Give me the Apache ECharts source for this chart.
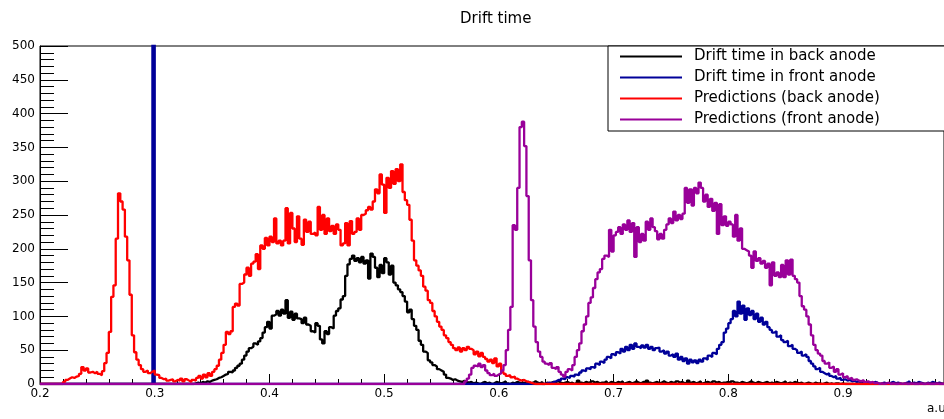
<!DOCTYPE html>
<html>
<head>
<meta charset="utf-8">
<title>Drift time</title>
<script src="https://cdn.jsdelivr.net/npm/echarts@6/dist/echarts.min.js"></script>
<style>
  html, body { margin: 0; padding: 0; background: #fff; }
  #chart { width: 944px; height: 419px; }
</style>
</head>
<body>
<div id="chart"></div>
<script>
// Histogram binning: 0.002 a.u. per bin, axis from 0.2 to 0.988
const AXIS_START = 0.2;
const AXIS_END = 0.988;
const BIN_WIDTH = 0.002;

const seriesNames = [
  'Drift time in back anode',
  'Drift time in front anode',
  'Predictions (back anode)',
  'Predictions (front anode)'
];
const seriesColors = ['#000000', '#000099', '#ff0000', '#990099'];

const yTicks = [0, 50, 100, 150, 200, 250, 300, 350, 400, 450, 500];
const xTicks = [0.2, 0.3, 0.4, 0.5, 0.6, 0.7, 0.8, 0.9];

// Drift time in back anode (counts per bin, first bin at backAnodeFrom)
const backAnodeFrom = 0.334;
const backAnodeCounts = [
  1, 2, 1, 3, 2, 4, 3, 5, 6, 7,
  9, 10, 12, 14, 15, 18, 17, 20, 24, 27,
  30, 36, 42, 48, 53, 55, 60, 58, 63, 68,
  76, 84, 92, 82, 101, 103, 108, 101, 110, 104,
  124, 98, 107, 95, 104, 97, 96, 90, 98, 88,
  86, 78, 76, 90, 86, 66, 60, 78, 74, 84,
  82, 101, 108, 112, 125, 130, 160, 177, 185, 190,
  182, 186, 180, 188, 178, 183, 156, 193, 188, 172,
  158, 176, 164, 186, 180, 162, 175, 150, 146, 140,
  136, 130, 122, 106, 110, 96, 86, 80, 64, 58,
  48, 46, 35, 32, 28, 26, 22, 20, 18, 14,
  9, 8, 6, 7, 5, 4, 3, 5, 3, 2,
  3, 1,
  2, 1, 0, 2, 3, 1, 2, 0, 1, 3,
  2, 1, 2, 4, 1, 0, 2, 1, 3, 2,
  1, 2, 0, 3, 1, 2, 4, 2, 1, 3,
  0, 2, 1, 2, 3, 1, 4, 2, 1, 2,
  3, 1, 2, 0, 2, 5, 2, 1, 3, 2,
  1, 4, 2, 3, 1, 2, 2, 4, 1, 3,
  2, 1, 3, 2, 4, 1, 2, 3, 1, 2,
  4, 2, 1, 3, 2, 5, 2, 1, 2, 3,
  1, 2, 4, 2, 1, 3, 2, 1, 4, 2,
  3, 1, 2, 5, 2, 3, 1, 2, 4, 1,
  2, 3, 2, 1, 4, 2, 3, 1, 2, 2,
  3, 1, 4, 2, 2, 1, 3, 2, 1, 2,
  4, 2, 1, 3, 2, 1, 2, 3, 1, 2,
  1, 3, 2, 1, 2, 4, 1, 2, 1, 3,
  2, 1, 2, 0, 1, 2, 1, 0, 2, 1,
  1, 0, 1, 2, 0, 1, 0, 1, 1, 0,
  1
];

// Drift time in front anode: one off-scale bin, then the main distribution
const frontAnodeSpikeFrom = 0.298;
const frontAnodeSpikeCounts = [2400];
const frontAnodeFrom = 0.640;
const frontAnodeCounts = [
  1, 2, 1, 3, 4, 6, 5, 8, 7, 10,
  9, 12, 11, 14, 13, 17, 20, 19, 23, 22,
  25, 24, 30, 28, 33, 31, 36, 40, 38, 44,
  42, 47, 45, 52, 48, 55, 50, 58, 52, 60,
  55, 53, 57, 54, 58, 52, 55, 50, 53, 54,
  48, 50, 45, 48, 42, 44, 40, 45, 36, 40,
  34, 38, 30, 36, 32, 35, 31, 36, 33, 38,
  36, 42, 40, 46, 44, 52, 58, 62, 76, 82,
  90, 96, 108, 100, 122, 104, 116, 95, 112, 102,
  108, 96, 104, 92, 98, 88, 92, 84, 80, 76,
  78, 70, 72, 65, 62, 64, 56, 58, 52, 50,
  46, 48, 42, 44, 40, 34, 30, 26, 22, 24,
  18, 16, 14, 16, 12, 10, 12, 8, 9, 6,
  7, 5, 6, 4, 5, 3, 4, 2, 3, 2,
  1, 2, 1, 3, 2, 0, 1, 2, 1, 0,
  2, 3, 1, 2, 1, 0, 1, 2, 4, 1,
  2, 1, 3, 2, 1, 0, 2, 1, 3, 2,
  1, 2, 1
];

// Predictions (back anode)
const backPredFrom = 0.220;
const backPredCounts = [
  3, 6, 8, 10, 9, 11, 12, 15, 25, 20,
  23, 17, 18, 16, 18, 15, 13, 19, 31, 46,
  77, 129, 146, 215, 282, 270, 258, 218, 183, 132,
  72, 47, 36, 28, 22, 18, 20, 16, 18, 20,
  14, 13, 9, 7, 8, 5, 6, 7, 4, 6,
  5, 8, 4, 7, 5, 3, 6, 5, 9, 12,
  8, 14, 10, 16, 12, 18, 22, 27, 36, 46,
  58, 77, 74, 78, 114, 119, 116, 148, 150, 162,
  172, 160, 178, 181, 192, 170, 205, 200, 216, 205,
  218, 210, 245, 208, 212, 205, 212, 260, 208, 253,
  230, 210, 248, 215, 206, 243, 225, 240, 222, 224,
  220, 262, 228, 250, 222, 245, 226, 234, 222, 236,
  228, 205, 208, 238, 205, 241, 222, 225, 245, 228,
  250, 252, 257, 262, 258, 270, 288, 282, 310, 295,
  253, 305, 290, 315, 296, 318, 300, 325, 284, 272,
  265, 243, 212, 183, 175, 168, 160, 144, 138, 124,
  120, 108, 100, 92, 85, 80, 72, 68, 62, 58,
  53, 50, 54, 48, 53, 50, 55, 52, 50, 44,
  48, 41, 46, 40, 37, 33, 36, 31, 38, 26,
  30, 18, 15, 12, 13, 10, 11, 8, 6, 5,
  6, 4, 3, 2, 1
];

// Predictions (front anode)
const frontPredFrom = 0.570;
const frontPredCounts = [
  4, 8, 14, 24, 27, 26, 30, 25, 28, 20,
  16, 13, 15, 12, 14, 16, 20, 28, 50, 80,
  114, 235, 228, 290, 380, 388, 352, 278, 183, 124,
  85, 62, 48, 40, 33, 30, 28, 31, 24, 22,
  25, 18, 14, 11, 18, 22, 20, 28, 40, 50,
  60, 78, 88, 100, 120, 128, 142, 155, 165, 170,
  185, 190, 188, 228, 196, 220, 225, 232, 222, 236,
  228, 242, 225, 238, 188, 232, 210, 222, 212, 240,
  228, 245, 232, 226, 214, 222, 215, 228, 236, 245,
  238, 255, 242, 250, 244, 252, 290, 268, 288, 264,
  290, 282, 298, 290, 270, 280, 262, 274, 256, 268,
  222, 266, 235, 248, 234, 240, 236, 218, 250, 212,
  230, 200, 198, 196, 190, 172, 196, 182, 186, 178,
  182, 172, 178, 146, 180, 160, 165, 158, 176, 158,
  183, 162, 184, 160, 155, 150, 130, 115, 110, 100,
  88, 72, 58, 50, 45, 42, 34, 30, 32, 24,
  26, 18, 22, 14, 16, 10, 12, 8, 9, 6,
  7, 5, 4, 6, 3, 4, 2, 3, 1, 2,
  0, 1, 0, 1, 2, 0, 1, 0, 0, 1,
  0, 1, 0, 0, 1, 0, 0, 0, 1, 0,
  0, 1, 0, 0, 0, 1, 0, 0
];

// Turn [start, counts] segments into step-line points at the bin edges.
const N_BINS = Math.round((AXIS_END - AXIS_START) / BIN_WIDTH);
function histogramPoints(segments) {
  const counts = new Array(N_BINS).fill(0);
  segments.forEach(([from, values]) => {
    const first = Math.round((from - AXIS_START) / BIN_WIDTH);
    values.forEach((v, k) => {
      const idx = first + k;
      if (idx >= 0 && idx < N_BINS) counts[idx] = v;
    });
  });
  const pts = counts.map((c, i) => [+(AXIS_START + i * BIN_WIDTH).toFixed(4), c]);
  pts.push([AXIS_END, counts[N_BINS - 1]]);
  return pts;
}

const seriesData = [
  histogramPoints([[backAnodeFrom, backAnodeCounts]]),
  histogramPoints([[frontAnodeSpikeFrom, frontAnodeSpikeCounts], [frontAnodeFrom, frontAnodeCounts]]),
  histogramPoints([[backPredFrom, backPredCounts]]),
  histogramPoints([[frontPredFrom, frontPredCounts]])
];

const FONT = 'DejaVu Sans';
const chart = echarts.init(document.getElementById('chart'), null, { renderer: 'canvas' });

chart.setOption({
  animation: false,
  backgroundColor: '#ffffff',
  title: {
    text: 'Drift time',
    left: 455,
    top: 7,
    textStyle: { fontFamily: FONT, fontSize: 15, fontWeight: 'normal', color: '#000' }
  },
  legend: {
    data: seriesNames,
    orient: 'vertical',
    left: 608,
    top: 46,
    icon: 'rect',
    itemWidth: 62,
    itemHeight: 2,
    itemGap: 0,
    padding: [0, 120, 1, 12],
    borderColor: '#000',
    borderWidth: 1,
    backgroundColor: '#fff',
    selectedMode: false,
    textStyle: { fontFamily: FONT, fontSize: 15, color: '#000', lineHeight: 21, padding: [0, 0, 0, 7] }
  },
  grid: {
    left: 40, top: 46, right: -2, bottom: 35,
    show: true, borderColor: '#000', borderWidth: 1, backgroundColor: 'transparent'
  },
  // x-axis title, sitting under the right end of the axis
  graphic: [{
    type: 'text',
    left: 927,
    top: 403,
    style: { text: 'a.u.', font: '12px "DejaVu Sans"', fill: '#000' }
  }],
  xAxis: {
    type: 'value',
    min: AXIS_START,
    max: AXIS_END,
    interval: 0.1,
    axisLine: { show: true, lineStyle: { color: '#000', width: 1 } },
    axisTick: { show: true, inside: true, length: 10, lineStyle: { color: '#000' } },
    minorTick: { show: true, splitNumber: 5, length: 5, lineStyle: { color: '#000' } },
    splitLine: { show: false },
    axisLabel: {
      showMaxLabel: false,
      margin: 4,
      color: '#000',
      fontFamily: FONT,
      fontSize: 12,
      formatter: v => {
        const hit = xTicks.find(t => Math.abs(t - v) < 1e-6);
        return hit === undefined ? '' : hit.toFixed(1);
      }
    }
  },
  yAxis: {
    type: 'value',
    min: yTicks[0],
    max: yTicks[yTicks.length - 1],
    interval: 50,
    axisLine: { show: true, lineStyle: { color: '#000', width: 1 } },
    axisTick: { show: true, inside: true, length: 28, lineStyle: { color: '#000' } },
    minorTick: { show: true, splitNumber: 5, length: 14, lineStyle: { color: '#000' } },
    splitLine: { show: false },
    axisLabel: { margin: 5, color: '#000', fontFamily: FONT, fontSize: 12 }
  },
  series: seriesNames.map((name, i) => ({
    name,
    type: 'line',
    step: 'end',
    data: seriesData[i],
    symbol: 'none',
    showSymbol: false,
    clip: true,
    z: 2 + i,
    lineStyle: { color: seriesColors[i], width: 2.3 },
    itemStyle: { color: seriesColors[i] },
    emphasis: { disabled: true }
  }))
});
</script>
</body>
</html>
